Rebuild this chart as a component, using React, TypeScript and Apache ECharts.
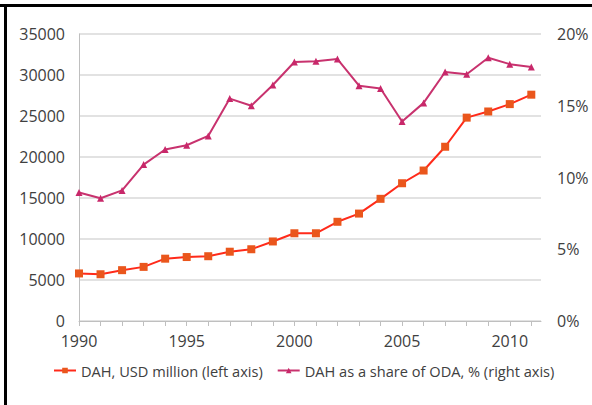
import React, { useEffect, useRef } from "react";
import * as echarts from "echarts";

const years = [1990, 1991, 1992, 1993, 1994, 1995, 1996, 1997, 1998, 1999, 2000, 2001, 2002, 2003, 2004, 2005, 2006, 2007, 2008, 2009, 2010, 2011];
const dahUsd = [5800, 5700, 6200, 6600, 7600, 7800, 7900, 8450, 8750, 9700, 10700, 10700, 12100, 13100, 14900, 16800, 18350, 21250, 24800, 25550, 26450, 27600];
const dahShare = [8.95, 8.55, 9.1, 10.9, 11.95, 12.25, 12.9, 15.5, 15.0, 16.45, 18.05, 18.1, 18.25, 16.4, 16.2, 13.9, 15.2, 17.35, 17.2, 18.35, 17.9, 17.7];
const seriesNames = ["DAH, USD million (left axis)", "DAH as a share of ODA, % (right axis)"];

const FONT = "Open Sans";
const TXT = "#404040";

export default function App() {
  const ref = useRef<HTMLDivElement>(null);
  useEffect(() => {
    if (!ref.current) return;
    const chart = echarts.init(ref.current, undefined, { renderer: "svg" });
    chart.setOption({
      animation: false,
      backgroundColor: "#ffffff",
      textStyle: { fontFamily: FONT },
      graphic: [
        { type: "rect", shape: { x: 0, y: 4, width: 592, height: 3 }, style: { fill: "#000" } },
        { type: "rect", shape: { x: 4, y: 4, width: 3, height: 401 }, style: { fill: "#000" } },
      ],
      grid: { left: 79, right: 51, top: 34, bottom: 84, containLabel: false },
      legend: {
        left: 53,
        top: 363,
        padding: 0,
        itemWidth: 22,
        itemHeight: 7,
        itemGap: 14,
        textStyle: { fontFamily: FONT, fontSize: 14.6, color: TXT },
        data: seriesNames,
      },
      xAxis: {
        type: "value",
        min: 1990,
        max: 2011.45,
        interval: 1,
        axisLine: { show: true, lineStyle: { color: "#bfbfbf", width: 1 } },
        axisTick: { show: true, length: 5, lineStyle: { color: "#bfbfbf" } },
        splitLine: { show: false },
        axisLabel: {
          fontFamily: FONT,
          fontSize: 16,
          color: TXT,
          margin: 12,
          showMaxLabel: false,
          formatter: (v: number) => (v % 5 === 0 ? String(v) : ""),
        },
      },
      yAxis: [
        {
          type: "value",
          min: 0,
          max: 35000,
          interval: 5000,
          axisLine: { show: true, lineStyle: { color: "#bfbfbf" } },
          axisTick: { show: false },
          splitLine: { show: true, lineStyle: { color: "#d9d9d9", width: 1.5 } },
          axisLabel: { fontFamily: FONT, fontSize: 16, color: TXT, margin: 14, formatter: (v: number) => String(v) },
        },
        {
          type: "value",
          min: 0,
          max: 20,
          interval: 5,
          axisLine: { show: false },
          axisTick: { show: false },
          splitLine: { show: false },
          axisLabel: { fontFamily: FONT, fontSize: 16, color: TXT, margin: 16, formatter: "{value}%" },
        },
      ],
      series: [
        {
          name: seriesNames[0],
          type: "line",
          yAxisIndex: 0,
          data: years.map((y, i) => [y, dahUsd[i]]),
          symbol: "rect",
          symbolSize: 8,
          lineStyle: { color: "#ff2a1a", width: 2 },
          itemStyle: { color: "#ea561c" },
        },
        {
          name: seriesNames[1],
          type: "line",
          yAxisIndex: 1,
          data: years.map((y, i) => [y, dahShare[i]]),
          symbol: "triangle",
          symbolSize: 7,
          lineStyle: { color: "#c8326e", width: 2 },
          itemStyle: { color: "#c8286a" },
        },
      ],
    });
    return () => chart.dispose();
  }, []);
  return <div ref={ref} style={{ position: "fixed", left: 0, top: 0, width: 592, height: 405 }} />;
}
